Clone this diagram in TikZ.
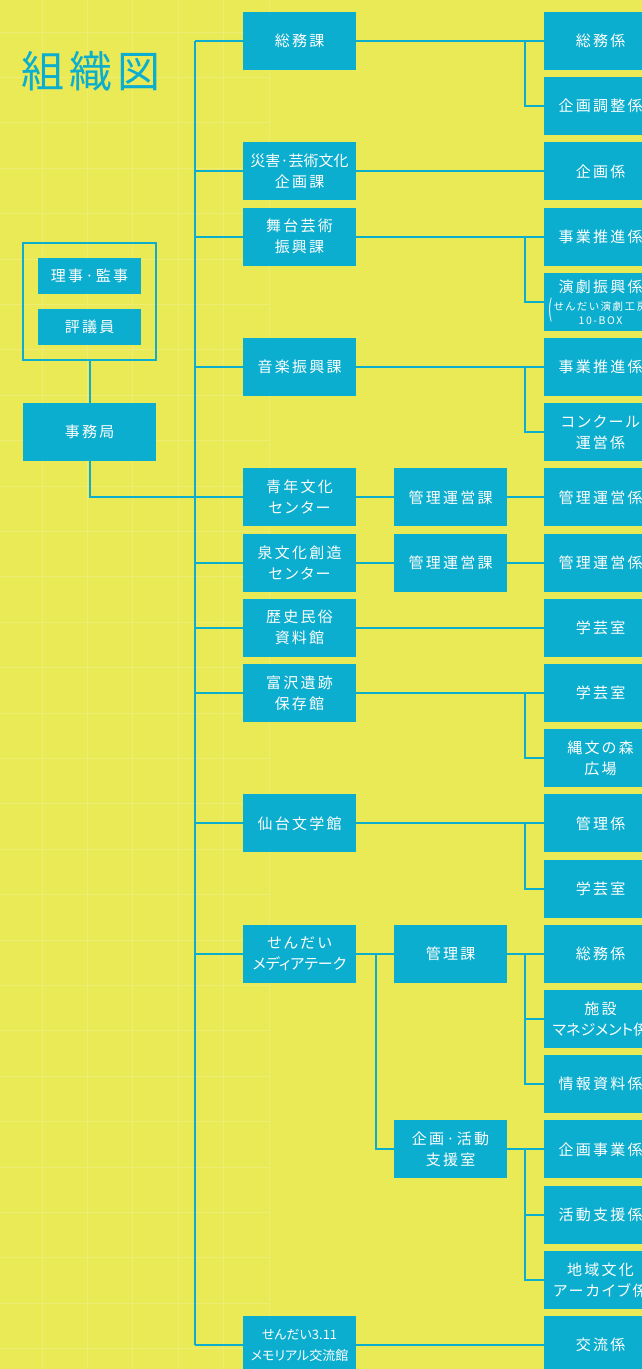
\documentclass[tikz,border=0pt]{standalone}
\usepackage{fontspec}
\usepackage{tikz}
\usetikzlibrary{positioning, fit}
\setmainfont{Noto Sans CJK JP}[LetterSpace=15, RawFeature=+palt]
\definecolor{bgyellow}{RGB}{233,234,86}
\definecolor{boxcyan}{RGB}{11,174,206}
\definecolor{gridtone}{RGB}{237,237,115}
\newcommand{\tight}[1]{{\addfontfeature{LetterSpace=0}#1}}

\begin{document}
\begin{tikzpicture}[x=1pt, y=-1pt,
    unitbox/.style={rectangle, fill=boxcyan, text=white, minimum width=113pt, minimum height=58pt, inner sep=0pt, align=center, font=\fontsize{15}{21}\selectfont},
    boardbox/.style={rectangle, fill=boxcyan, text=white, minimum width=103pt, minimum height=36pt, inner sep=0pt, font=\fontsize{15}{21}\selectfont},
    orgline/.style={draw=boxcyan, line width=2pt},
    gridrule/.style={draw=gridtone, line width=0.9pt}
]
\useasboundingbox (0,0) rectangle (642,1369);
\clip (0,0) rectangle (642,1369);
\fill[bgyellow] (0,0) rectangle (642,1369);

% faint grid on the left
\foreach \gx in {0,...,5}
    \draw[gridrule] ({42+45.4*\gx},0) -- ({42+45.4*\gx},1369);
\foreach \gy in {0,...,29}
    \draw[gridrule] (0,{32+45.4*\gy}) -- (269,{32+45.4*\gy});

\node[text=boxcyan, font=\fontsize{43}{43}\selectfont\addfontfeature{LetterSpace=12}] (title) at (91,71) {組織図};

% board and office
\node[boardbox] (riji) at (89.5,276) {理事·監事};
\node[boardbox] (hyogi) at (89.5,327) {評議員};
\node[draw=boxcyan, line width=1.6pt, inner sep=15pt, fit=(riji)(hyogi)] (yakuin) {};
\node[unitbox, minimum width=133pt] (jimukyoku) at (89.5,432) {事務局};

% departments
\node[unitbox] (soumuka) at (299.5,41) {総務課};
\node[unitbox] (saigai) at (299.5,171.4) {\tight{災害·芸術文化}\\企画課};
\node[unitbox] (butai) at (299.5,236.6) {舞台芸術\\振興課};
\node[unitbox] (ongaku) at (299.5,367) {音楽振興課};
\node[unitbox] (seinen) at (299.5,497.4) {青年文化\\センター};
\node[unitbox] (izumi) at (299.5,562.6) {泉文化創造\\センター};
\node[unitbox] (rekishi) at (299.5,627.8) {歴史民俗\\資料館};
\node[unitbox] (tomizawa) at (299.5,693) {富沢遺跡\\保存館};
\node[unitbox] (bungakukan) at (299.5,823.4) {仙台文学館};
\node[unitbox] (mediatheque) at (299.5,953.8) {せんだい\\\tight{メディアテーク}};
\node[unitbox, font=\fontsize{13}{21}\selectfont\addfontfeature{LetterSpace=0}] (memorial) at (299.5,1345) {せんだい3.11\\メモリアル交流館};

% sections
\node[unitbox] (seinenkanri) at (450.5,497.4) {管理運営課};
\node[unitbox] (izumikanri) at (450.5,562.6) {管理運営課};
\node[unitbox] (mtkanri) at (450.5,953.8) {管理課};
\node[unitbox] (mtkikaku) at (450.5,1149.4) {企画·活動\\支援室};

% teams
\node[unitbox] (soumugakari) at (600.5,41) {総務係};
\node[unitbox] (chosei) at (600.5,106.2) {企画調整係};
\node[unitbox] (kikaku) at (600.5,171.4) {企画係};
\node[unitbox] (butaijigyo) at (600.5,236.6) {事業推進係};
\node[unitbox] (engeki) at (600.5,301.8) {演劇振興係\\[-3pt]{\fontsize{10.5}{12}\selectfont\llap{\smash{\raisebox{-7pt}{\scalebox{0.5}[1]{\fontsize{24}{24}\selectfont(}}}\hspace{1pt}}せんだい演劇工房}\\[-7pt]{\fontsize{10.5}{12}\selectfont 10-BOX}};
\node[unitbox] (ongakujigyo) at (600.5,367) {事業推進係};
\node[unitbox] (concours) at (600.5,432.2) {コンクール\\運営係};
\node[unitbox] (seinenunei) at (600.5,497.4) {管理運営係};
\node[unitbox] (izumiunei) at (600.5,562.6) {管理運営係};
\node[unitbox] (rekishigakugei) at (600.5,627.8) {学芸室};
\node[unitbox] (tomizawagakugei) at (600.5,693) {学芸室};
\node[unitbox] (jomon) at (600.5,758.2) {縄文の森\\広場};
\node[unitbox] (bungakukanri) at (600.5,823.4) {管理係};
\node[unitbox] (bungakugakugei) at (600.5,888.6) {学芸室};
\node[unitbox] (mtsoumu) at (600.5,953.8) {総務係};
\node[unitbox] (shisetsu) at (600.5,1019) {施設\\\tight{マネジメント係}};
\node[unitbox] (joho) at (600.5,1084.2) {情報資料係};
\node[unitbox] (kikakujigyo) at (600.5,1149.4) {企画事業係};
\node[unitbox] (katsudo) at (600.5,1214.6) {活動支援係};
\node[unitbox] (chiiki) at (600.5,1279.8) {地域文化\\アーカイブ係};
\node[unitbox] (koryu) at (600.5,1345) {交流係};

\coordinate (trunktop) at (195,41);
\coordinate (trunkend) at (195,1345);
\coordinate (fork) at (525,0);
\coordinate (mtfork) at (376,0);

% trunk
\draw[orgline] (trunktop) -- (trunkend);
\draw[orgline] (yakuin) -- (jimukyoku);
\draw[orgline] (jimukyoku.south) |- (seinen.west);
\draw[orgline] (soumuka.west) -- (soumuka.west -| trunktop);
\draw[orgline] (saigai.west) -- (saigai.west -| trunktop);
\draw[orgline] (butai.west) -- (butai.west -| trunktop);
\draw[orgline] (ongaku.west) -- (ongaku.west -| trunktop);
\draw[orgline] (izumi.west) -- (izumi.west -| trunktop);
\draw[orgline] (rekishi.west) -- (rekishi.west -| trunktop);
\draw[orgline] (tomizawa.west) -- (tomizawa.west -| trunktop);
\draw[orgline] (bungakukan.west) -- (bungakukan.west -| trunktop);
\draw[orgline] (mediatheque.west) -- (mediatheque.west -| trunktop);
\draw[orgline] (memorial.west) -- (memorial.west -| trunktop);

% branches
\draw[orgline] (soumuka) -- (soumugakari);
\draw[orgline] (soumugakari.west -| fork) |- (chosei.west);
\draw[orgline] (saigai) -- (kikaku);
\draw[orgline] (butai) -- (butaijigyo);
\draw[orgline] (butaijigyo.west -| fork) |- (engeki.west);
\draw[orgline] (ongaku) -- (ongakujigyo);
\draw[orgline] (ongakujigyo.west -| fork) |- (concours.west);
\draw[orgline] (seinen) -- (seinenkanri);
\draw[orgline] (seinenkanri) -- (seinenunei);
\draw[orgline] (izumi) -- (izumikanri);
\draw[orgline] (izumikanri) -- (izumiunei);
\draw[orgline] (rekishi) -- (rekishigakugei);
\draw[orgline] (tomizawa) -- (tomizawagakugei);
\draw[orgline] (tomizawagakugei.west -| fork) |- (jomon.west);
\draw[orgline] (bungakukan) -- (bungakukanri);
\draw[orgline] (bungakukanri.west -| fork) |- (bungakugakugei.west);
\draw[orgline] (mediatheque) -- (mtkanri);
\draw[orgline] (mtkanri.west -| mtfork) |- (mtkikaku.west);
\draw[orgline] (mtkanri) -- (mtsoumu);
\draw[orgline] (mtsoumu.west -| fork) |- (shisetsu.west);
\draw[orgline] (mtsoumu.west -| fork) |- (joho.west);
\draw[orgline] (mtkikaku) -- (kikakujigyo);
\draw[orgline] (kikakujigyo.west -| fork) |- (katsudo.west);
\draw[orgline] (kikakujigyo.west -| fork) |- (chiiki.west);
\draw[orgline] (memorial) -- (koryu);

\end{tikzpicture}
\end{document}
